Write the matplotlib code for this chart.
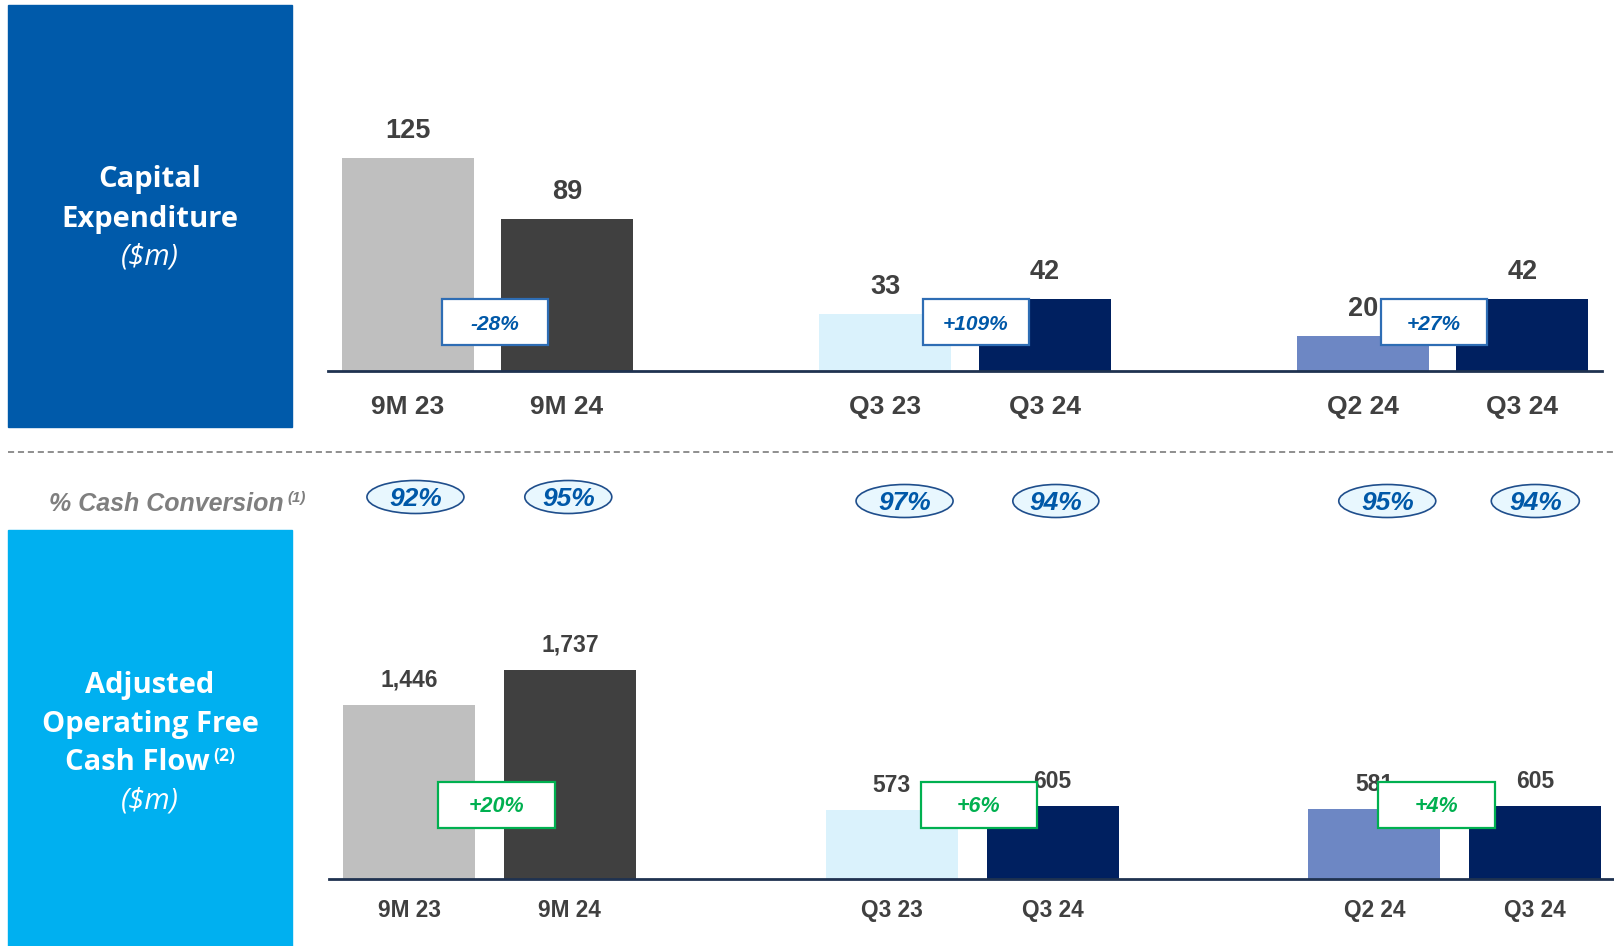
import numpy as np
import matplotlib.pyplot as plt
from matplotlib.patches import Rectangle, Ellipse
from matplotlib.lines import Line2D

W, H = 1614, 946

# data
labels = ['9M 23', '9M 24', 'Q3 23', 'Q3 24', 'Q2 24', 'Q3 24']
capex = [125, 89, 33, 42, 20, 42]
fcf = [1446, 1737, 573, 605, 581, 605]
capex_chg = ['-28%', '+109%', '+27%']
fcf_chg = ['+20%', '+6%', '+4%']
cash_conv = ['92%', '95%', '97%', '94%', '95%', '94%']

# layout / style
xpos = [0, 1, 3, 4, 6, 7]
pair_mid = [0.5, 3.5, 6.5]
bar_colors = ['#BFBFBF', '#404040', '#DAF2FC', '#002060', '#6D87C4', '#002060']
top_chg_dx = [0.046, 0.068, -0.057]
bot_chg_dx = [0.045, 0.041, -0.113]
conv_dx = [0.04, -0.01, 0.08, 0.02, 0.08, 0.0]
conv_w = [97, 87, 97, 86, 97, 88]
conv_y = [497, 497, 501, 501, 501, 501]

NARROW = ['Liberation Sans Narrow', 'Liberation Sans', 'DejaVu Sans']
SANS = ['Liberation Sans', 'DejaVu Sans']
TITLE = ['Open Sans', 'DejaVu Sans']
GREY = '#404040'
BLUE_TXT = '#0058A8'
GREEN = '#00B050'
PT = 0.72  # points per pixel at dpi 100

fig = plt.figure(figsize=(W / 100, H / 100), dpi=100)


def px_axes(left, top, width, height):
    return fig.add_axes([left / W, 1 - (top + height) / H, width / W, height / H])


def draw_panel(ax, vals, chg, chg_dx, chg_y, chg_w, chg_col, edge_col,
               bw, lab_off, tick_off, lab_fs, tick_fs, chg_fs):
    ax.bar(xpos, vals, width=bw, color=bar_colors, zorder=2)
    ax.axhline(0, color='#1F3250', lw=2, zorder=3, clip_on=False)
    for x, v in zip(xpos, vals):
        ax.annotate(f'{v:,}', (x, v), xytext=(0, lab_off * PT), textcoords='offset points',
                    ha='center', va='center', fontsize=lab_fs, fontweight='bold',
                    color=GREY, family=NARROW, zorder=4)
    for x, l in zip(xpos, labels):
        ax.annotate(l, (x, 0), xytext=(0, -tick_off * PT), textcoords='offset points',
                    ha='center', va='center', fontsize=tick_fs, fontweight='bold',
                    color=GREY, family=NARROW, annotation_clip=False)
    for m, dx, t in zip(pair_mid, chg_dx, chg):
        cx = m + dx
        ax.add_patch(Rectangle((cx - chg_w / 2, chg_y[0]), chg_w, chg_y[1] - chg_y[0],
                               fc='white', ec=edge_col, lw=1.6, zorder=5))
        ax.annotate(t, (cx, (chg_y[0] + chg_y[1]) / 2), xytext=(0, -2 * PT),
                    textcoords='offset points', ha='center', va='center',
                    fontsize=chg_fs, fontweight='bold', style='italic', color=chg_col,
                    family=NARROW, zorder=6)
    ax.set_xlim(-0.5, 7.5)
    ax.axis('off')


# top panel: capital expenditure
ax1 = px_axes(328, 5, 1274, 365.5)
ax1.set_ylim(0, 214.5)
draw_panel(ax1, capex, capex_chg, top_chg_dx, (15.0, 41.7), 0.666, BLUE_TXT, '#2E6DB4',
           0.83, 27, 36, 19.5, 19, 15)

# bottom panel: adjusted operating free cash flow
ax2 = px_axes(328.55, 530, 1287.2, 349)
ax2.set_ylim(0, 2901)
draw_panel(ax2, fcf, fcf_chg, bot_chg_dx, (427, 806), 0.724, GREEN, GREEN,
           0.82, 25, 31, 16.5, 16.3, 15.5)

# cash conversion row
ax3 = px_axes(328.55, 465, 1287.2, 65)
ax3.set_xlim(-0.5, 7.5)
ax3.set_ylim(530, 465)
ax3.axis('off')
for x, dx, w, y, t in zip(xpos, conv_dx, conv_w, conv_y, cash_conv):
    ax3.add_patch(Ellipse((x + dx, y), w / 160.9, 33, fc='#E8F7FE', ec='#1F4E8C', lw=1.2))
    ax3.text(x + dx, y + 2, t, ha='center', va='center', fontsize=19, fontweight='bold',
             style='italic', color=BLUE_TXT, family=NARROW)

# side boxes
fig.add_artist(Rectangle((8 / W, 1 - 427 / H), 284 / W, 422 / H,
                         transform=fig.transFigure, color='#005AAA'))
fig.add_artist(Rectangle((8 / W, 0), 284 / W, 416 / H,
                         transform=fig.transFigure, color='#00B0F0'))

# dashed separator
fig.add_artist(Line2D([8 / W, 1], [1 - 452 / H] * 2, transform=fig.transFigure,
                      color='#707070', lw=1.1, ls=(0, (4, 2.5))))

renderer = fig.canvas.get_renderer()


def text_with_sup(cx, cy, main, sup, fs, color, family, style='normal', ha='center'):
    t1 = fig.text(0, cy, main, fontsize=fs, fontweight='bold', color=color,
                  family=family, style=style, va='center', ha='left')
    t2 = fig.text(0, cy, sup, fontsize=fs * 0.6, fontweight='bold', color=color,
                  family=family, style=style, va='baseline', ha='left')
    w1 = t1.get_window_extent(renderer).width / W
    w2 = t2.get_window_extent(renderer).width / W
    gap = 4 / W
    x0 = cx - (w1 + gap + w2) / 2 if ha == 'center' else cx
    t1.set_x(x0)
    t2.set_position((x0 + w1 + gap, cy + 2 / H))


tx = 150 / W
TFS = 21
fig.text(tx, 1 - 180 / H, 'Capital', ha='center', va='center', fontsize=TFS,
         fontweight='bold', color='white', family=TITLE)
fig.text(tx, 1 - 219 / H, 'Expenditure', ha='center', va='center', fontsize=TFS,
         fontweight='bold', color='white', family=TITLE)
fig.text(tx, 1 - 257 / H, '($m)', ha='center', va='center', fontsize=TFS,
         style='italic', color='white', family=TITLE)

fig.text(tx, 1 - 685 / H, 'Adjusted', ha='center', va='center', fontsize=TFS,
         fontweight='bold', color='white', family=TITLE)
fig.text(tx, 1 - 724.5 / H, 'Operating Free', ha='center', va='center', fontsize=TFS,
         fontweight='bold', color='white', family=TITLE)
text_with_sup(tx, 1 - 762.6 / H, 'Cash Flow', '(2)', TFS, 'white', TITLE)
fig.text(tx, 1 - 800.7 / H, '($m)', ha='center', va='center', fontsize=TFS,
         style='italic', color='white', family=TITLE)

text_with_sup(49 / W, 1 - 504 / H, '% Cash Conversion', '(1)', 18, '#7F7F7F', SANS,
              style='italic', ha='left')

fig.savefig('out.png', dpi=100)
